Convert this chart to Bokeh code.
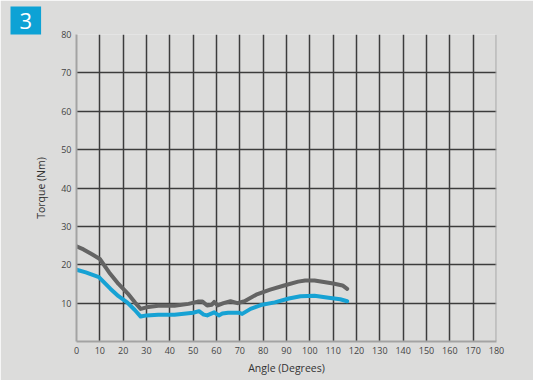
from bokeh.plotting import figure
from bokeh.models import Range1d, FixedTicker, Span
from bokeh.embed import file_html
from bokeh.resources import INLINE

# Data
gray_x = [0, 3, 7, 10, 14, 18, 22, 25, 27.5, 30, 35, 42, 48, 52, 54, 56, 58, 59, 60.5, 63, 66, 69, 72, 77, 83, 89, 95, 98, 102, 106, 110, 114, 116]
gray_y = [24.8, 24.0, 22.6, 21.5, 18.0, 15.0, 12.5, 10.2, 8.5, 8.9, 9.3, 9.3, 9.8, 10.4, 10.4, 9.4, 9.6, 10.3, 9.4, 10.0, 10.5, 10.0, 10.5, 12.2, 13.5, 14.6, 15.6, 15.9, 15.9, 15.5, 15.1, 14.6, 13.7]
blue_x = [0, 4, 9.6, 14.6, 18, 21.7, 25, 27.5, 30, 35, 42, 50, 52.5, 54.5, 56, 59, 61, 62.5, 65, 69.5, 71, 74.6, 79, 85, 91, 96, 102, 108, 113, 116]
blue_y = [18.7, 18.0, 16.8, 13.7, 11.8, 10.2, 8.2, 6.5, 6.8, 7.0, 7.0, 7.5, 7.9, 7.0, 6.8, 7.6, 6.8, 7.3, 7.5, 7.5, 7.2, 8.5, 9.5, 10.2, 11.2, 11.8, 11.9, 11.4, 11.0, 10.5]
x_ticks = list(range(0, 181, 10))
y_ticks = list(range(10, 81, 10))
badge_text = "3"

BG = "#dcdcdb"
p = figure(width=533, height=380, output_backend="svg", toolbar_location=None,
           x_range=Range1d(0, 180), y_range=Range1d(0, 80),
           min_border_left=76, min_border_right=37, min_border_top=34, min_border_bottom=39)
p.background_fill_color = BG
p.border_fill_color = BG
p.outline_line_color = None

p.title.text = badge_text
p.title.align = "left"
p.title.offset = -66
p.title.standoff = 0
p.title.text_font = "Open Sans"
p.title.text_font_size = "22px"
p.title.text_font_style = "normal"
p.title.text_color = "white"
p.title.background_fill_color = "#0da2d5"
p.title.padding = (9, 6)

for ax in (p.xaxis[0], p.yaxis[0]):
    ax.axis_line_color = "#a3a3a3"
    ax.axis_line_width = 2
    ax.major_tick_line_color = None
    ax.minor_tick_line_color = None
    ax.major_tick_out = 0
    ax.major_tick_in = 0
    ax.minor_tick_out = 0
    ax.major_label_text_font = "Open Sans"
    ax.major_label_text_font_size = "9px"
    ax.major_label_text_color = "#444444"
    ax.axis_label_text_font = "Open Sans"
    ax.axis_label_text_font_size = "10.5px"
    ax.axis_label_text_font_style = "normal"
    ax.axis_label_text_color = "#333333"

p.xaxis.ticker = FixedTicker(ticks=x_ticks)
p.yaxis.ticker = FixedTicker(ticks=y_ticks)
p.xaxis.axis_label = "Angle (Degrees)"
p.yaxis.axis_label = "Torque (Nm)"
p.xaxis.major_label_standoff = 5
p.yaxis.major_label_standoff = 5
p.xaxis.axis_label_standoff = 4
p.yaxis.axis_label_standoff = 10

p.xgrid.ticker = FixedTicker(ticks=x_ticks[1:-1])
p.ygrid.ticker = FixedTicker(ticks=y_ticks[:-1])
for g in (p.xgrid[0], p.ygrid[0]):
    g.grid_line_color = "#3c3c3c"
    g.grid_line_width = 1.5

p.add_layout(Span(location=180, dimension="height", line_color="#a3a3a3", line_width=2))

p.line(gray_x, gray_y, line_color="#646464", line_width=4, line_join="round", line_cap="round")
p.line(blue_x, blue_y, line_color="#17a2d4", line_width=4, line_join="round", line_cap="round")

open("out.html", "w").write(file_html(p, INLINE))
